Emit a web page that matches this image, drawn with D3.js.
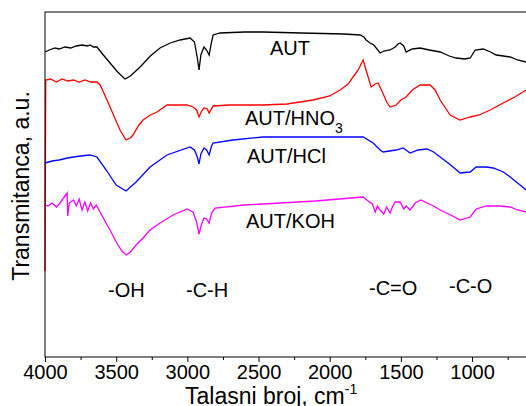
<!DOCTYPE html>
<html>
<head>
<meta charset="utf-8">
<script src="https://cdn.jsdelivr.net/npm/d3@7"></script>
<style>
  body { margin: 0; background: #fff; }
  text { font-family: Arial, "Liberation Sans", sans-serif; }
</style>
</head>
<body>
<div id="container"></div>
<script>
// FTIR spectra, wavenumber (cm-1) vs transmittance (a.u., offset by series)
var xTicks = [4000, 3500, 3000, 2500, 2000, 1500, 1000];
var xMinor = [3750, 3250, 2750, 2250, 1750, 1250, 750];

var aut = [[4000,305],[3970,307],[3930,309],[3900,308],[3860,310],[3820,309],[3780,311],[3740,312],[3700,311],
  [3684,312],[3660,310],[3635,310],[3590,302],[3543,294],[3490,285],[3438,278],[3400,281],[3332,290],
  [3260,301],[3192,309],[3120,314],[3051,317],[2981,319],[2950,315],[2930,299],[2918,287],[2905,302],
  [2883,310],[2865,307],[2847,302],[2830,315],[2819,322],[2770,324],[2600,325],[2468,325],[2200,324],
  [1900,323],[1786,322],[1760,320],[1744,317],[1716,314],[1690,312],[1646,304],[1620,306],[1576,307],
  [1540,310],[1520,313],[1505,314],[1480,311],[1463,305],[1420,308],[1365,309],[1300,307],[1224,305],
  [1160,301],[1112,299],[1050,298],[1013,299],[978,307],[922,308],[870,305],[831,302],[780,301],
  [732,300],[680,297],[620,295]];

var autHNO3 = [[4000,86],[3995,277],[3960,278],[3920,275],[3880,278],[3840,276],[3800,277],[3760,275],
  [3720,277],[3680,275],[3635,275],[3613,272],[3580,262],[3543,250],[3510,239],[3473,227],[3431,217],
  [3400,219],[3382,222],[3340,232],[3311,237],[3260,242],[3213,245],[3143,252],[3002,252],[2960,250],
  [2935,247],[2918,240],[2900,246],[2883,249],[2860,248],[2847,244],[2819,251],[2700,252],[2468,252],
  [2300,253],[2117,257],[2000,261],[1927,267],[1870,273],[1836,280],[1800,287],[1765,297],[1745,287],
  [1730,280],[1709,270],[1680,273],[1660,274],[1630,265],[1600,255],[1576,250],[1533,252],[1500,257],
  [1463,260],[1420,267],[1365,272],[1294,272],[1260,267],[1224,257],[1154,242],[1084,237],[1013,240],
  [950,242],[873,247],[781,254],[700,260],[620,267]];

var autHCl = [[4000,194],[3950,196],[3900,197],[3842,199],[3800,200],[3750,201],[3684,202],[3635,200],
  [3570,187],[3500,172],[3431,166],[3360,175],[3262,190],[3143,202],[2981,210],[2950,207],[2930,200],
  [2918,193],[2905,203],[2883,209],[2865,207],[2847,202],[2830,211],[2819,214],[2680,217],[2468,220],
  [2000,220],[1765,220],[1695,214],[1646,207],[1625,205],[1580,206],[1533,207],[1484,209],[1435,204],
  [1380,207],[1316,208],[1270,205],[1224,200],[1150,192],[1084,184],[1013,185],[971,190],[900,190],
  [852,189],[780,185],[732,180],[680,174],[620,167]];

var autKOH = [[4000,152],[3980,151],[3950,154],[3920,150],[3900,153],[3845,164],[3840,141],[3830,154],
  [3800,157],[3780,151],[3760,158],[3740,147],[3720,155],[3700,146],[3680,154],[3660,148],[3640,152],
  [3613,145],[3590,139],[3560,131],[3543,127],[3500,115],[3460,106],[3431,102],[3400,105],[3360,112],
  [3311,119],[3262,127],[3192,134],[3100,142],[3002,148],[2960,145],[2935,135],[2918,123],[2900,133],
  [2883,139],[2865,138],[2847,134],[2830,144],[2805,149],[2600,152],[2468,153],[2100,156],[1850,159],
  [1765,160],[1730,156],[1700,153],[1680,145],[1665,151],[1646,147],[1620,143],[1600,150],[1576,144],
  [1560,150],[1540,155],[1505,155],[1480,148],[1463,151],[1435,147],[1400,154],[1360,157],[1316,154],
  [1270,151],[1224,147],[1150,142],[1084,137],[1013,140],[971,148],[900,151],[800,151],[732,150],
  [680,147],[620,145]];

var series = [
  { name: "AUT", data: aut, color: "#000000" },
  { name: "AUT/HNO3", data: autHNO3, color: "#ff0000" },
  { name: "AUT/HCl", data: autHCl, color: "#0000ff" },
  { name: "AUT/KOH", data: autKOH, color: "#ff00ff" }
];

var width = 526, height = 406;
// note: "top" is reserved on window, so plot edges get their own names
var plotL = 45, plotT = 12, plotB = 357, plotR = 529;

var svg = d3.select("#container").append("svg")
    .attr("width", width)
    .attr("height", height);

var x = d3.scaleLinear().domain([4000, 600]).range([plotL, plotR]);
var y = d3.scaleLinear().domain([0, 345]).range([plotB, plotT]);

var line = d3.line()
    .x(function(d) { return x(d[0]); })
    .y(function(d) { return y(d[1]); });

svg.selectAll("path.spec")
    .data(series)
    .enter()
    .append("path")
    .attr("class", "spec")
    .attr("d", function(d) { return line(d.data); })
    .attr("fill", "none")
    .attr("stroke", function(d) { return d.color; })
    .attr("stroke-width", 1.3);

// frame
svg.append("rect")
    .attr("x", plotL).attr("y", plotT)
    .attr("width", plotR - plotL).attr("height", plotB - plotT)
    .attr("fill", "none").attr("stroke", "#000").attr("stroke-width", 1);

// x axis
var xAxis = d3.axisBottom(x).tickValues(xTicks).tickSize(5).tickPadding(3).tickFormat(d3.format("d"));
var gx = svg.append("g").attr("transform", "translate(0," + plotB + ")").call(xAxis);
gx.select(".domain").remove();
gx.selectAll("text").attr("font-size", "20px").attr("font-family", "Arial, 'Liberation Sans', sans-serif").attr("fill", "#000");

var gm = svg.append("g").attr("transform", "translate(0," + plotB + ")")
    .call(d3.axisBottom(x).tickValues(xMinor).tickSize(3).tickFormat(""));
gm.select(".domain").remove();

// axis titles
var xt = svg.append("text")
    .attr("x", 185).attr("y", 404)
    .attr("font-size", "23px");
xt.append("tspan").text("Talasni broj, cm");
xt.append("tspan").attr("dy", -10).attr("font-size", "14px").text("-1");

svg.append("text")
    .attr("transform", "translate(29,186) rotate(-90)")
    .attr("text-anchor", "middle")
    .attr("font-size", "23px")
    .text("Transmitanca, a.u.");

// series labels
svg.append("text").attr("x", 270).attr("y", 55).attr("font-size", "20px").text("AUT");
var t2 = svg.append("text").attr("x", 245).attr("y", 125).attr("font-size", "20px");
t2.append("tspan").text("AUT/HNO");
t2.append("tspan").attr("dy", 8).attr("font-size", "14px").text("3");
svg.append("text").attr("x", 247).attr("y", 163).attr("font-size", "20px").text("AUT/HCl");
svg.append("text").attr("x", 246).attr("y", 228).attr("font-size", "20px").text("AUT/KOH");

// band labels
var bands = [
  { t: "-OH", x: 108, y: 297 },
  { t: "-C-H", x: 186, y: 297 },
  { t: "-C=O", x: 369, y: 295 },
  { t: "-C-O", x: 449, y: 293 }
];
svg.selectAll("text.band")
    .data(bands)
    .enter()
    .append("text")
    .attr("class", "band")
    .attr("x", function(d) { return d.x; })
    .attr("y", function(d) { return d.y; })
    .attr("font-size", "20px")
    .text(function(d) { return d.t; });
</script>
</body>
</html>
